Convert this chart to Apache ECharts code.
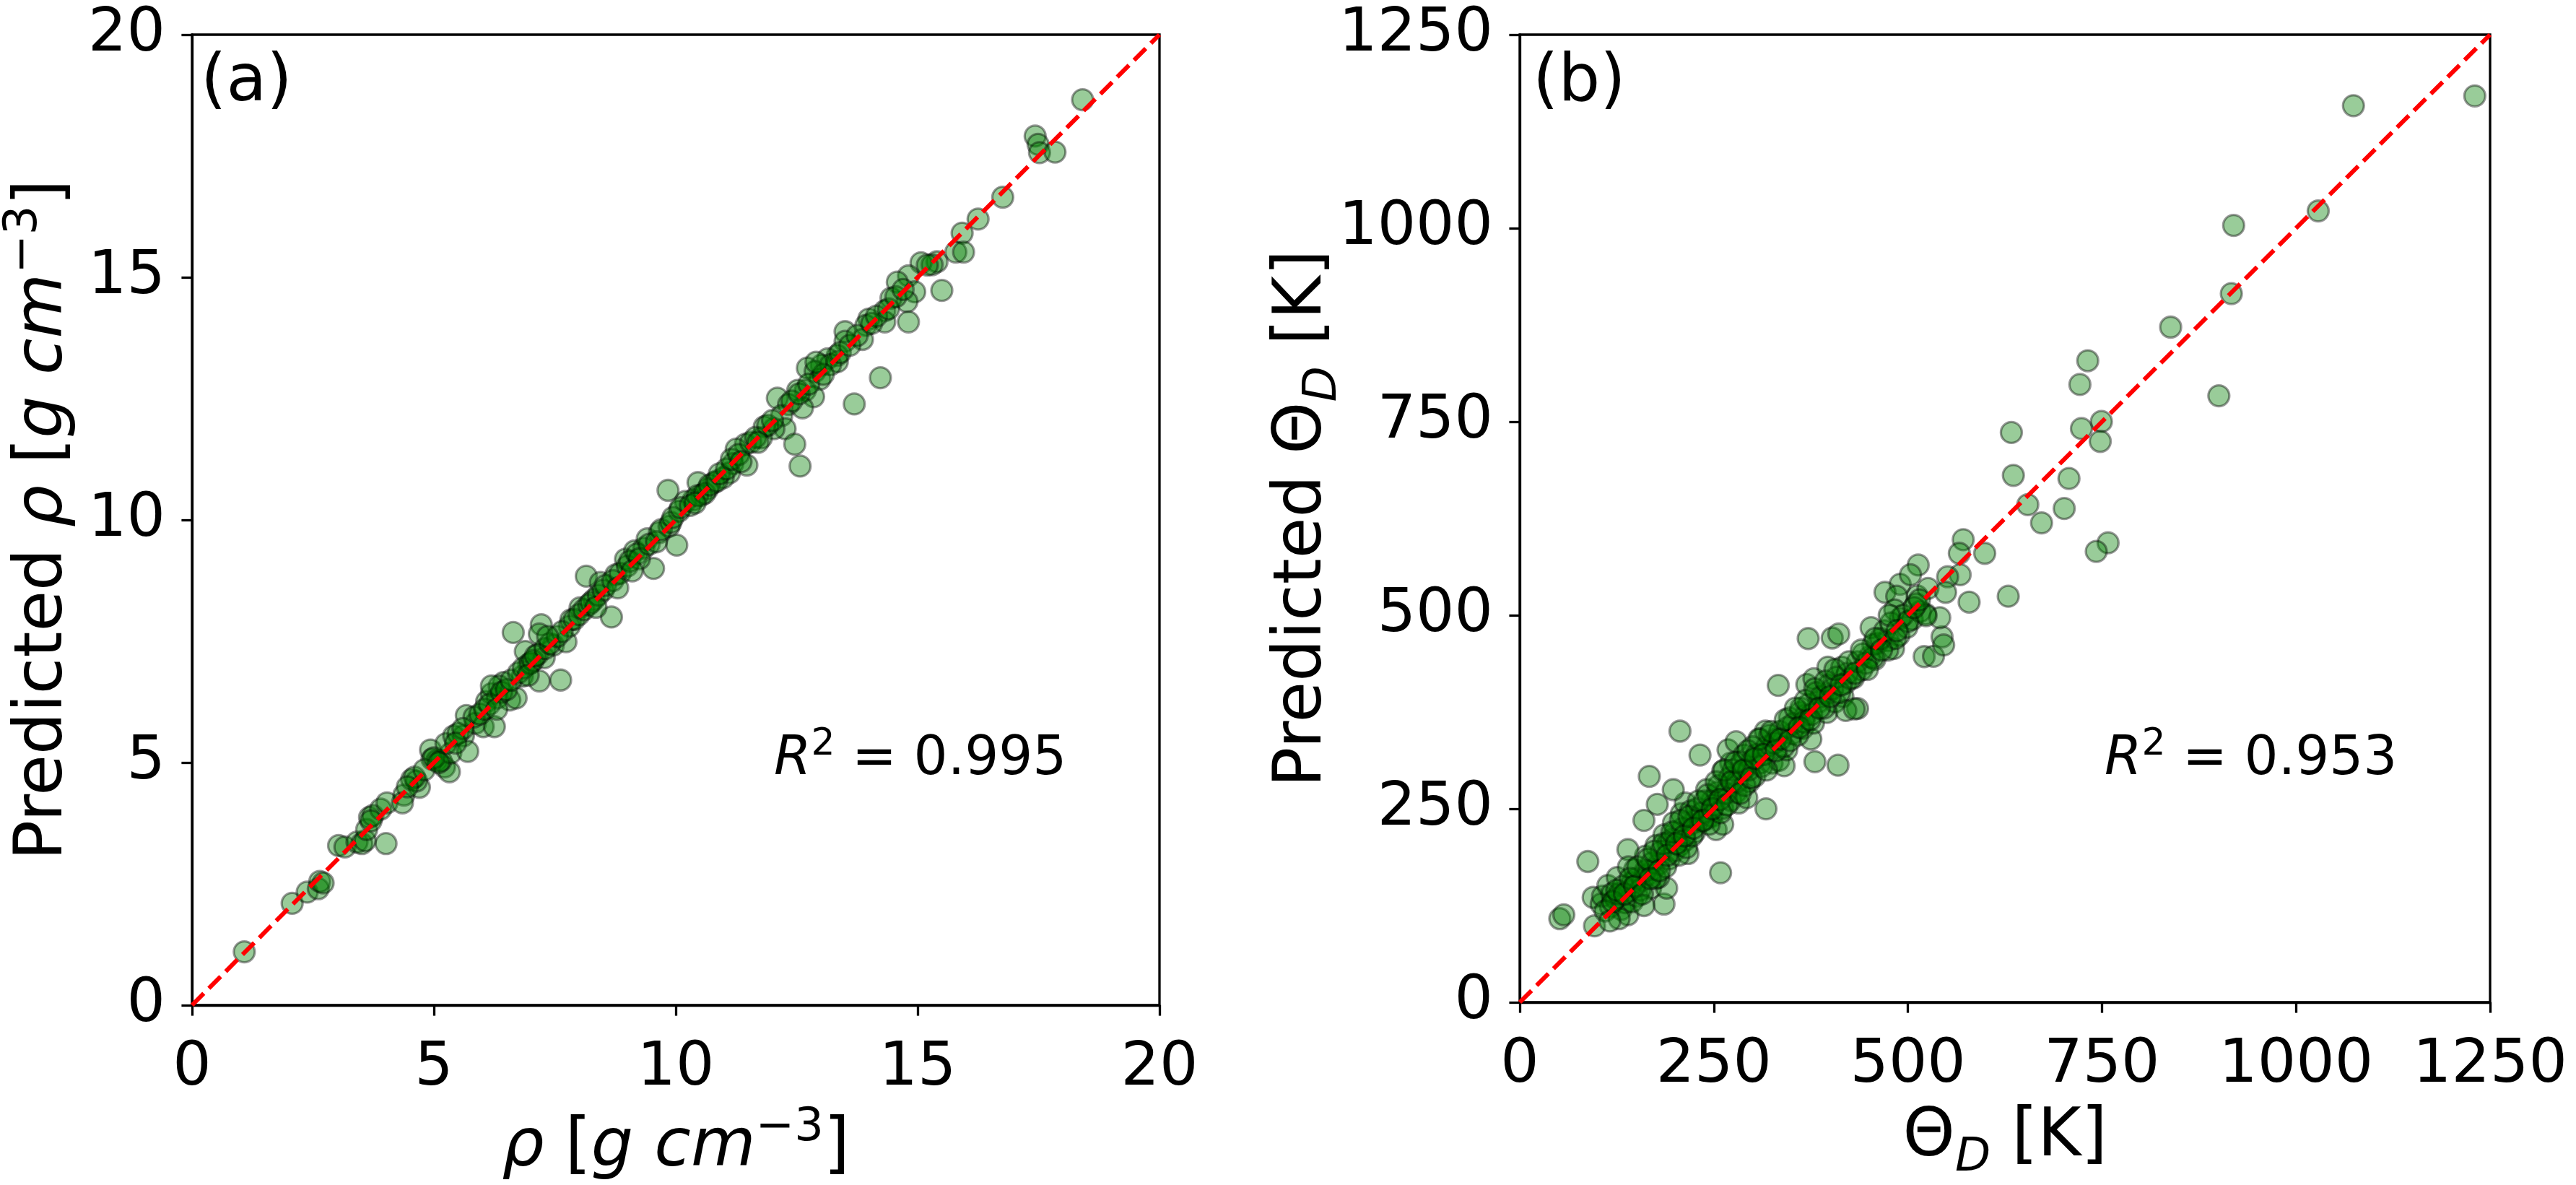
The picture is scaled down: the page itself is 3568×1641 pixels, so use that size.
<!DOCTYPE html>
<html><head><meta charset="utf-8">
<script src="https://cdn.jsdelivr.net/npm/echarts@6/dist/echarts.min.js"></script>
<style>html,body{margin:0;padding:0;background:#fff}#c{width:3568px;height:1641px}</style>
</head><body><div id="c"></div>
<script>
// ---- data ----
const rhoTicks = [0, 5, 10, 15, 20];
const thetaTicks = [0, 250, 500, 750, 1000, 1250];
const panelLabels = ['(a)', '(b)'];
const r2Values = ['0.995', '0.953'];

// [actual rho, predicted rho] in g cm^-3
const rhoPoints = [
[1.08,1.10],[2.07,2.10],[2.38,2.33],[2.61,2.40],[2.64,2.55],[2.71,2.52],[3.03,3.29],[3.16,3.26],[3.41,3.36],[3.51,3.33],
[3.58,3.39],[4.01,3.33],[3.61,3.62],[3.67,3.87],[3.74,3.91],[3.90,4.04],[4.03,4.17],[4.38,4.33],[4.35,4.17],[4.54,4.65],
[4.70,4.49],[4.64,4.62],[4.93,5.26],[4.96,5.07],[5.06,5.04],[5.22,4.91],[5.32,4.81],[5.15,5.04],[5.35,5.20],[5.25,5.39],
[5.41,5.55],[5.61,5.55],[5.70,5.23],[5.67,5.97],[5.86,5.81],[6.02,5.74],[6.25,5.74],[5.83,5.94],[6.09,6.26],[6.19,6.42],
[6.31,6.33],[6.44,6.65],[6.57,6.29],[6.70,6.33],[6.35,6.58],[6.19,6.58],[6.64,7.68],[6.83,6.78],[6.96,7.03],[6.89,7.29],
[7.15,7.23],[7.18,6.68],[7.28,7.16],[7.47,7.42],[7.62,6.70],[7.22,7.84],[7.18,7.65],[7.73,7.49],[7.80,7.81],[7.83,7.94],
[8.02,8.19],[8.15,8.84],[8.31,8.36],[8.44,8.71],[8.67,8.00],[8.76,8.87],[8.96,9.19],[9.15,9.36],[9.34,9.42],[9.54,9.00],
[9.41,9.61],[9.66,9.74],[9.86,9.87],[10.02,9.48],
[3.70,3.80],[4.60,4.70],[4.80,4.85],[5.00,5.10],[5.10,5.00],[5.50,5.60],[5.60,5.70],[5.95,6.00],[6.05,6.10],[6.15,6.20],
[6.40,6.45],[6.50,6.50],[6.60,6.70],[6.75,6.85],[6.85,6.95],[7.00,7.05],[7.05,7.10],[7.10,7.20],[7.30,7.35],[7.40,7.45],
[7.55,7.60],[7.65,7.70],[7.90,7.95],[8.00,8.05],[8.10,8.15],[8.20,8.25],[8.25,8.30],[8.40,8.45],[8.50,8.55],[8.55,8.65],
[8.70,8.75],[8.85,8.90],[9.00,9.05],[9.05,9.15],[9.20,9.30],[9.25,9.20],[9.45,9.50],[9.60,9.55],[9.70,9.80],[9.90,9.95],
[5.45,5.40],[4.45,4.50],[6.30,6.10],[7.35,7.60],[8.35,8.20],[6.95,6.80],[8.80,8.60],[9.10,8.95],
[18.41,18.66],[17.43,17.91],[17.49,17.74],[17.52,17.57],[17.84,17.58],[16.76,16.65],[16.25,16.20],[15.92,15.91],[15.79,15.52],[15.95,15.52],
[15.50,14.73],[15.40,15.32],[15.07,15.30],[15.30,15.26],[14.81,15.03],[14.58,14.90],[14.94,14.70],[14.78,14.50],[14.81,14.08],[14.45,14.57],
[14.32,14.31],[14.32,14.08],[13.99,14.14],[13.93,14.01],[13.86,13.72],[13.50,13.88],[13.50,13.68],[13.34,13.39],[13.14,13.32],[13.34,13.26],
[13.01,13.19],[12.72,13.13],[12.88,13.06],[12.98,12.90],[14.23,12.93],[13.69,12.39],[12.68,12.67],[12.85,12.54],[12.52,12.67],[12.10,12.51],
[12.33,12.38],[12.62,12.31],[12.19,12.15],[12.26,11.88],[12.03,11.88],[11.83,11.92],[12.46,11.56],[12.57,11.11],[11.77,11.69],[11.44,11.56],
[11.25,11.46],[11.18,11.16],[11.47,11.13],[11.11,10.97],[10.98,10.87],[10.79,10.77],[10.66,10.64],[10.46,10.77],[10.53,10.51],[10.36,10.41],
[10.20,10.38],[10.07,10.18],[9.84,10.61],[9.94,10.05],
[10.10,10.25],[10.30,10.30],[10.45,10.50],[10.60,10.55],[10.70,10.72],[10.85,10.80],[10.90,10.95],[11.05,11.05],[11.15,11.25],[11.30,11.35],
[11.35,11.20],[11.55,11.60],[11.65,11.70],[11.90,11.95],[12.00,12.05],[12.40,12.45],[12.55,12.60],[12.75,12.80],[13.20,13.20],[13.40,13.45],
[13.60,13.60],[13.75,13.80],[14.05,14.05],[14.15,14.20],[14.40,14.35],[14.55,14.60],[14.70,14.75],[15.20,15.25],[13.05,13.00],[11.70,11.60],
[10.40,10.35],[12.90,13.25]
];

// [actual Theta_D, predicted Theta_D] in K
const thetaPoints = [
[51.6,108],[56.8,113],[96.3,98.7],[87.7,181.9],[94.6,135.5],[104.9,126.9],[106.7,137.2],[113.5,150.9],[118.7,140.6],[117.0,123.4],
[123.9,133.7],[125.6,161.2],[130.7,120.0],[135.9,128.6],[139.3,113.1],[141.1,144.1],[144.5,154.4],[147.9,171.6],[151.4,137.2],[158.3,157.8],
[161.7,188.7],[165.1,164.7],[139.3,197.3],[168.6,147.5],[172.0,171.6],[178.9,178.4],[185.8,126.9],[189.2,147.5],[178.9,161.2],[175.5,202.5],
[185.8,216.2],[192.7,185.3],[190.9,205.9],[199.5,195.6],[206.4,202.5],[213.3,209.4],[216.7,192.2],[225.3,219.7],[227.1,236.9],[220.2,230.0],
[208.1,243.7],[213.3,257.5],[220.2,247.2],[233.9,233.4],[240.8,236.9],[247.7,240.3],[252.9,223.1],[261.5,230.0],[261.5,250.6],[247.7,260.9],
[240.8,274.7],[254.6,271.2],[268.3,278.1],[271.8,260.9],[278.7,271.2],[282.1,257.5],[292.4,264.4],[295.9,285.0],[302.8,291.9],[309.6,309.1],
[285.5,298.7],[271.8,309.1],[261.5,298.7],[268.3,326.2],[278.7,336.6],[289.0,319.4],[299.3,312.5],[309.6,340.0],[316.5,350.3],[320.0,326.2],
[325.1,309.1],[333.7,312.5],[330.3,340.0],[340.6,305.6],[344.0,326.2],[350.9,346.9],[347.5,367.5],[361.2,374.4],[364.7,353.7],[368.1,370.9],
[375.0,340.0],[378.4,360.6],[385.3,388.1],[395.6,374.4],[395.6,398.4],[406.0,388.1],[419.7,412.2],[416.3,395.0],[430.0,419.1],[440.4,429.4],
[450.7,446.6],[461.0,463.7],[457.6,443.1],[474.8,467.2],[481.6,456.9],[488.5,474.1],[498.8,484.4],[505.7,494.7],[516.0,505.0],[522.9,501.6],
[166.9,291.9],[206.4,350.3],[232.2,319.4],[197.8,274.7],[177.2,255.8],[160,235],[317.2,249.9],[258.7,167.4],[333,409.4],[371.6,469.9],
[402.5,470.6],[411,475.8],[410,306.3],[369.8,410.5],[435.2,379.5],[380.2,310.8],[521,446.6],
[452.6,484],[474,455],[512,525],[544,472],[533,447],[490,540],[490,496],[455,462],[420,377],[431,379],[379,418],[397,433],[415,433],
[571.3,597.6],[566.3,580.0],[599.0,580.0],[567.3,552.3],[551.2,549.7],[513.3,564.9],[503.3,552.3],[525.9,534.6],[548.6,529.6],[578.9,517.0],
[541.1,496.9],[470.5,529.6],[485.6,524.6],[483.1,506.9],[510.8,514.5],[523.4,499.4],[546.1,461.6],
[1230.3,1170.9],[1074.0,1158.3],[1028.6,1022.3],[919.7,1003.6],[916.7,915.5],[838.5,872.2],[731.7,828.8],[721.6,798.1],[900.6,783.5],[749.3,750.3],
[723.6,741.2],[747.8,724.6],[633.3,736.1],[635.9,680.7],[707.5,676.7],[654.5,642.9],[672.2,619.3],[701.4,637.9],[757.9,593.6],[742.7,582.5],
[629.3,524.6],
[110,118],[128,140],[133,150],[145,130],[150,160],[155,145],[162,170],[170,180],[175,160],[182,195],
[188,175],[195,210],[200,220],[205,190],[210,225],[215,200],[222,215],[228,250],[235,245],[238,260],
[244,230],[250,255],[256,280],[259,245],[265,270],[270,290],[275,300],[280,285],[286,310],[290,280],
[295,300],[300,330],[305,320],[312,305],[318,330],[322,345],[328,335],[335,350],[340,330],[345,355],
[352,360],[358,345],[362,380],[366,362],[372,385],[376,372],[382,400],[388,395],[392,380],[398,410],
[403,405],[408,420],[412,400],[422,425],[426,418],[435,440],[442,450],[446,438],[455,445],[465,470],
[470,480],[478,490],[484,470],[494,500],[500,492],[508,510],[515,520],[128,108],[160,125],[198,232],
[140,175],[116,105],
[120,130],[125,145],[135,140],[142,160],[148,150],[152,175],[158,140],[165,185],[168,160],[173,195],
[180,170],[185,205],[190,190],[196,220],[202,205],[207,235],[212,215],[218,240],[224,225],[230,260],
[236,235],[242,268],[248,250],[253,285],[258,262],[263,300],[267,255],[273,285],[278,310],[284,270],
[288,300],[294,325],[298,290],[303,315],[308,340],[314,320],[318,300],[324,350],[330,325],[336,340],
[342,365],[348,338],[355,380],[360,355],[368,390],[374,365],[380,405],[386,380],[394,415],[400,395],
[406,430],[414,410],[424,440],[432,425],[440,455],[448,430],[458,470],[466,455],[476,500],[486,480]
];

// ---- chart ----
const FONT = 'DejaVu Sans';
const nameRich = {
  n:   {fontFamily: FONT, fontSize: 92, lineHeight: 120, color: '#000'},
  i:   {fontFamily: FONT, fontSize: 92, fontStyle: 'italic', lineHeight: 120, color: '#000'},
  sup: {fontFamily: FONT, fontSize: 64, lineHeight: 72, verticalAlign: 'top', color: '#000'},
  subi:{fontFamily: FONT, fontSize: 64, fontStyle: 'italic', lineHeight: 50, verticalAlign: 'bottom', color: '#000'}
};
const r2Rich = {
  n:   {fontFamily: FONT, fontSize: 74, lineHeight: 96, fill: '#000'},
  i:   {fontFamily: FONT, fontSize: 74, fontStyle: 'italic', lineHeight: 96, fill: '#000'},
  sup: {fontFamily: FONT, fontSize: 52, lineHeight: 56, verticalAlign: 'top', fill: '#000'}
};

function valueAxis(idx, ticks, name, nameGap, labelMargin) {
  return {
    type: 'value', gridIndex: idx,
    min: ticks[0], max: ticks[ticks.length - 1], interval: ticks[1] - ticks[0],
    name: name, nameLocation: 'middle', nameGap: nameGap, nameMoveOverlap: false,
    nameTextStyle: {fontFamily: FONT, fontSize: 92, color: '#000', rich: nameRich},
    splitLine: {show: false},
    axisLine: {show: true, onZero: false, lineStyle: {color: '#000', width: 3.3}},
    axisTick: {show: true, inside: false, length: 14.6, lineStyle: {color: '#000', width: 3.3}},
    axisLabel: {color: '#000', fontFamily: FONT, fontSize: 84, margin: labelMargin,
                formatter: function (v) { return String(v); }}
  };
}

const rhoX = '{i|ρ}{n| [}{i|g}{n| }{i|cm}{sup|−3}{n|]}';
const rhoY = '{n|Predicted }{i|ρ}{n| [}{i|g}{n| }{i|cm}{sup|−3}{n|]}';
const thX = '{n|Θ}{subi|D}{n| [K]}';
const thY = '{n|Predicted Θ}{subi|D}{n| [K]}';

function scatterSeries(idx, data) {
  return {
    type: 'scatter', xAxisIndex: idx, yAxisIndex: idx, data: data,
    symbol: 'circle', symbolSize: 29, z: 2,
    itemStyle: {color: '#008000', borderColor: '#000', borderWidth: 3.3, opacity: 0.4}
  };
}
function diagSeries(idx, ticks) {
  const lo = ticks[0], hi = ticks[ticks.length - 1];
  return {
    type: 'line', xAxisIndex: idx, yAxisIndex: idx, data: [[lo, lo], [hi, hi]],
    symbol: 'none', showSymbol: false, z: 5, silent: true,
    lineStyle: {color: '#ff0000', width: 6, type: [23, 10]}
  };
}

const chart = echarts.init(document.getElementById('c'), null, {renderer: 'canvas'});
chart.setOption({
  animation: false,
  backgroundColor: '#fff',
  grid: [
    {left: 260, top: 48, width: 1346, height: 1345, show: true, borderColor: '#000', borderWidth: 3.3, backgroundColor: 'transparent'},
    {left: 2105, top: 48, width: 1344, height: 1345, show: true, borderColor: '#000', borderWidth: 3.3, backgroundColor: 'transparent'}
  ],
  xAxis: [
    valueAxis(0, rhoTicks, rhoX, 138, 46),
    valueAxis(1, thetaTicks, thX, 128, 46)
  ],
  yAxis: [
    valueAxis(0, rhoTicks, rhoY, 145, 37),
    valueAxis(1, thetaTicks, thY, 240, 37)
  ],
  series: [
    scatterSeries(0, rhoPoints), diagSeries(0, rhoTicks),
    scatterSeries(1, thetaPoints), diagSeries(1, thetaTicks)
  ],
  graphic: [
    {type: 'text', x: 278, y: 115, z: 10, style: {text: panelLabels[0], fontFamily: FONT, fontSize: 91, fill: '#000', verticalAlign: 'middle', align: 'left'}},
    {type: 'text', x: 2123, y: 115, z: 10, style: {text: panelLabels[1], fontFamily: FONT, fontSize: 91, fill: '#000', verticalAlign: 'middle', align: 'left'}},
    {type: 'text', x: 1072, y: 1053, z: 10, style: {text: '{i|R}{sup|2}{n| = ' + r2Values[0] + '}', rich: r2Rich, fill: '#000', verticalAlign: 'middle', align: 'left'}},
    {type: 'text', x: 2915, y: 1053, z: 10, style: {text: '{i|R}{sup|2}{n| = ' + r2Values[1] + '}', rich: r2Rich, fill: '#000', verticalAlign: 'middle', align: 'left'}}
  ]
});
</script>
</body></html>
